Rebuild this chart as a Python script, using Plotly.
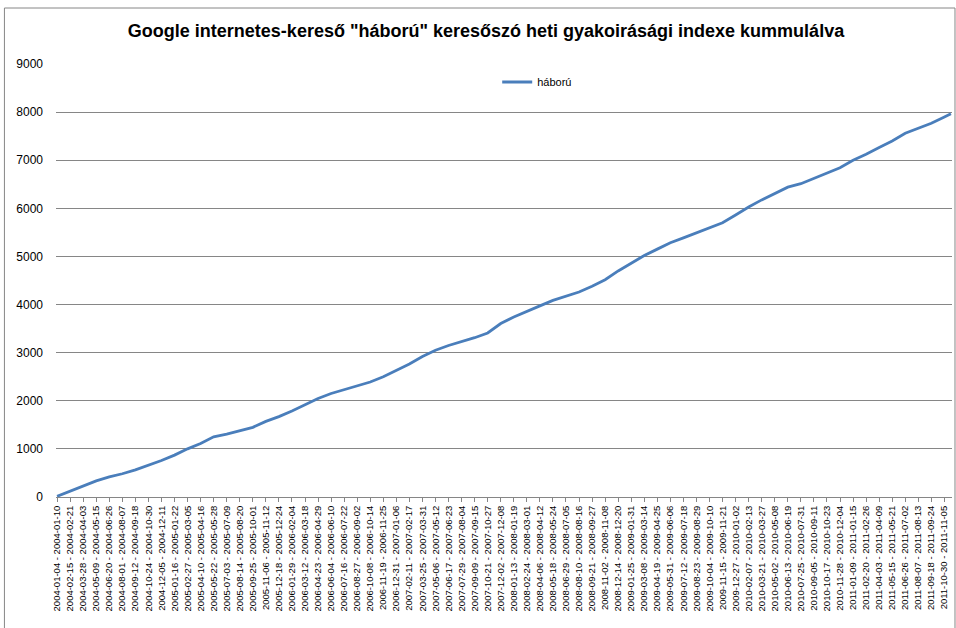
import pandas as pd
import plotly.graph_objects as go

# Weekly categories: 2004-01-04 ... 2011-11-20 (412 weeks)
week_starts = pd.date_range("2004-01-04", periods=412, freq="7D")
categories = [f"{d:%Y-%m-%d} - {(d + pd.Timedelta(days=6)):%Y-%m-%d}" for d in week_starts]
tick_labels = categories[::6]

# Cumulative index at every 6th week, plus the final week
sample_weeks = list(range(0, 412, 6)) + [411]
cumulative = [14, 117, 227, 335, 419, 483, 564, 660, 758, 871,
              1001, 1111, 1252, 1305, 1373, 1448, 1572, 1671, 1789, 1922,
              2047, 2152, 2233, 2310, 2391, 2500, 2628, 2763, 2921, 3051,
              3149, 3230, 3311, 3409, 3606, 3743, 3865, 3973, 4086, 4171,
              4261, 4381, 4517, 4699, 4857, 5018, 5152, 5284, 5387, 5487,
              5594, 5701, 5862, 6029, 6176, 6312, 6441, 6512, 6620, 6728,
              6844, 6998, 7122, 7265, 7400, 7560, 7658, 7767, 7899, 7965]
series_name = "háború"
title_text = 'Google internetes-kereső "háború" keresőszó heti gyakoirásági indexe kummulálva'
y_ticks = [0, 1000, 2000, 3000, 4000, 5000, 6000, 7000, 8000, 9000]

x_vals = [categories[w] for w in sample_weeks]

FONT = "Liberation Sans, Arial, sans-serif"

fig = go.Figure()
fig.add_trace(go.Scatter(
    x=x_vals, y=cumulative, mode="lines", name=series_name,
    line=dict(color="#4A7EBB", width=2.8),
))

L, R, T, B = 55.6, 4, 64, 131
W, H = 956, 628
pw, ph = W - L - R, H - T - B

fig.update_layout(
    width=W, height=H,
    margin=dict(l=L, r=R, t=T, b=B, pad=0, autoexpand=False),
    paper_bgcolor="white", plot_bgcolor="white",
    font=dict(family=FONT, color="black"),
    title=dict(text="<b>" + title_text + "</b>", x=486 / W, xanchor="center",
               y=1 - 31 / H, yanchor="middle",
               font=dict(size=18, family=FONT, color="black")),
    showlegend=True,
    legend=dict(x=(497 - L) / pw, xanchor="left", y=(497 - 82) / ph, yanchor="middle",
                bgcolor="rgba(0,0,0,0)", font=dict(size=11, family=FONT),
                itemwidth=30),
    xaxis=dict(
        type="category", categoryorder="array", categoryarray=categories,
        range=[-0.5, len(categories) - 0.5], automargin=False,
        tickmode="array", tickvals=tick_labels, ticktext=tick_labels,
        tickangle=-90, tickfont=dict(size=9.5, family=FONT, color="black"),
        showgrid=False, showline=True, linecolor="#868686", linewidth=1,
        ticks="outside", ticklen=4, tickcolor="#868686",
        zeroline=False,
    ),
    yaxis=dict(
        range=[0, 9000], tickmode="array", tickvals=y_ticks, automargin=False,
        tickfont=dict(size=12, family=FONT, color="black"),
        showgrid=True, gridcolor="#868686", gridwidth=1,
        showline=False, zeroline=False, ticks="", ticklabelstandoff=12,
    ),
    shapes=[dict(type="rect", xref="paper", yref="paper",
                 x0=(4 - L) / pw, x1=(955 - L) / pw,
                 y0=-(700 - 497) / ph, y1=(497 - 8) / ph,
                 line=dict(color="#868686", width=1), fillcolor="rgba(0,0,0,0)",
                 layer="below")],
)

fig.write_html("out.html", config={"displayModeBar": False},
               post_script="document.body.style.margin='0';document.body.style.overflow='hidden';")
